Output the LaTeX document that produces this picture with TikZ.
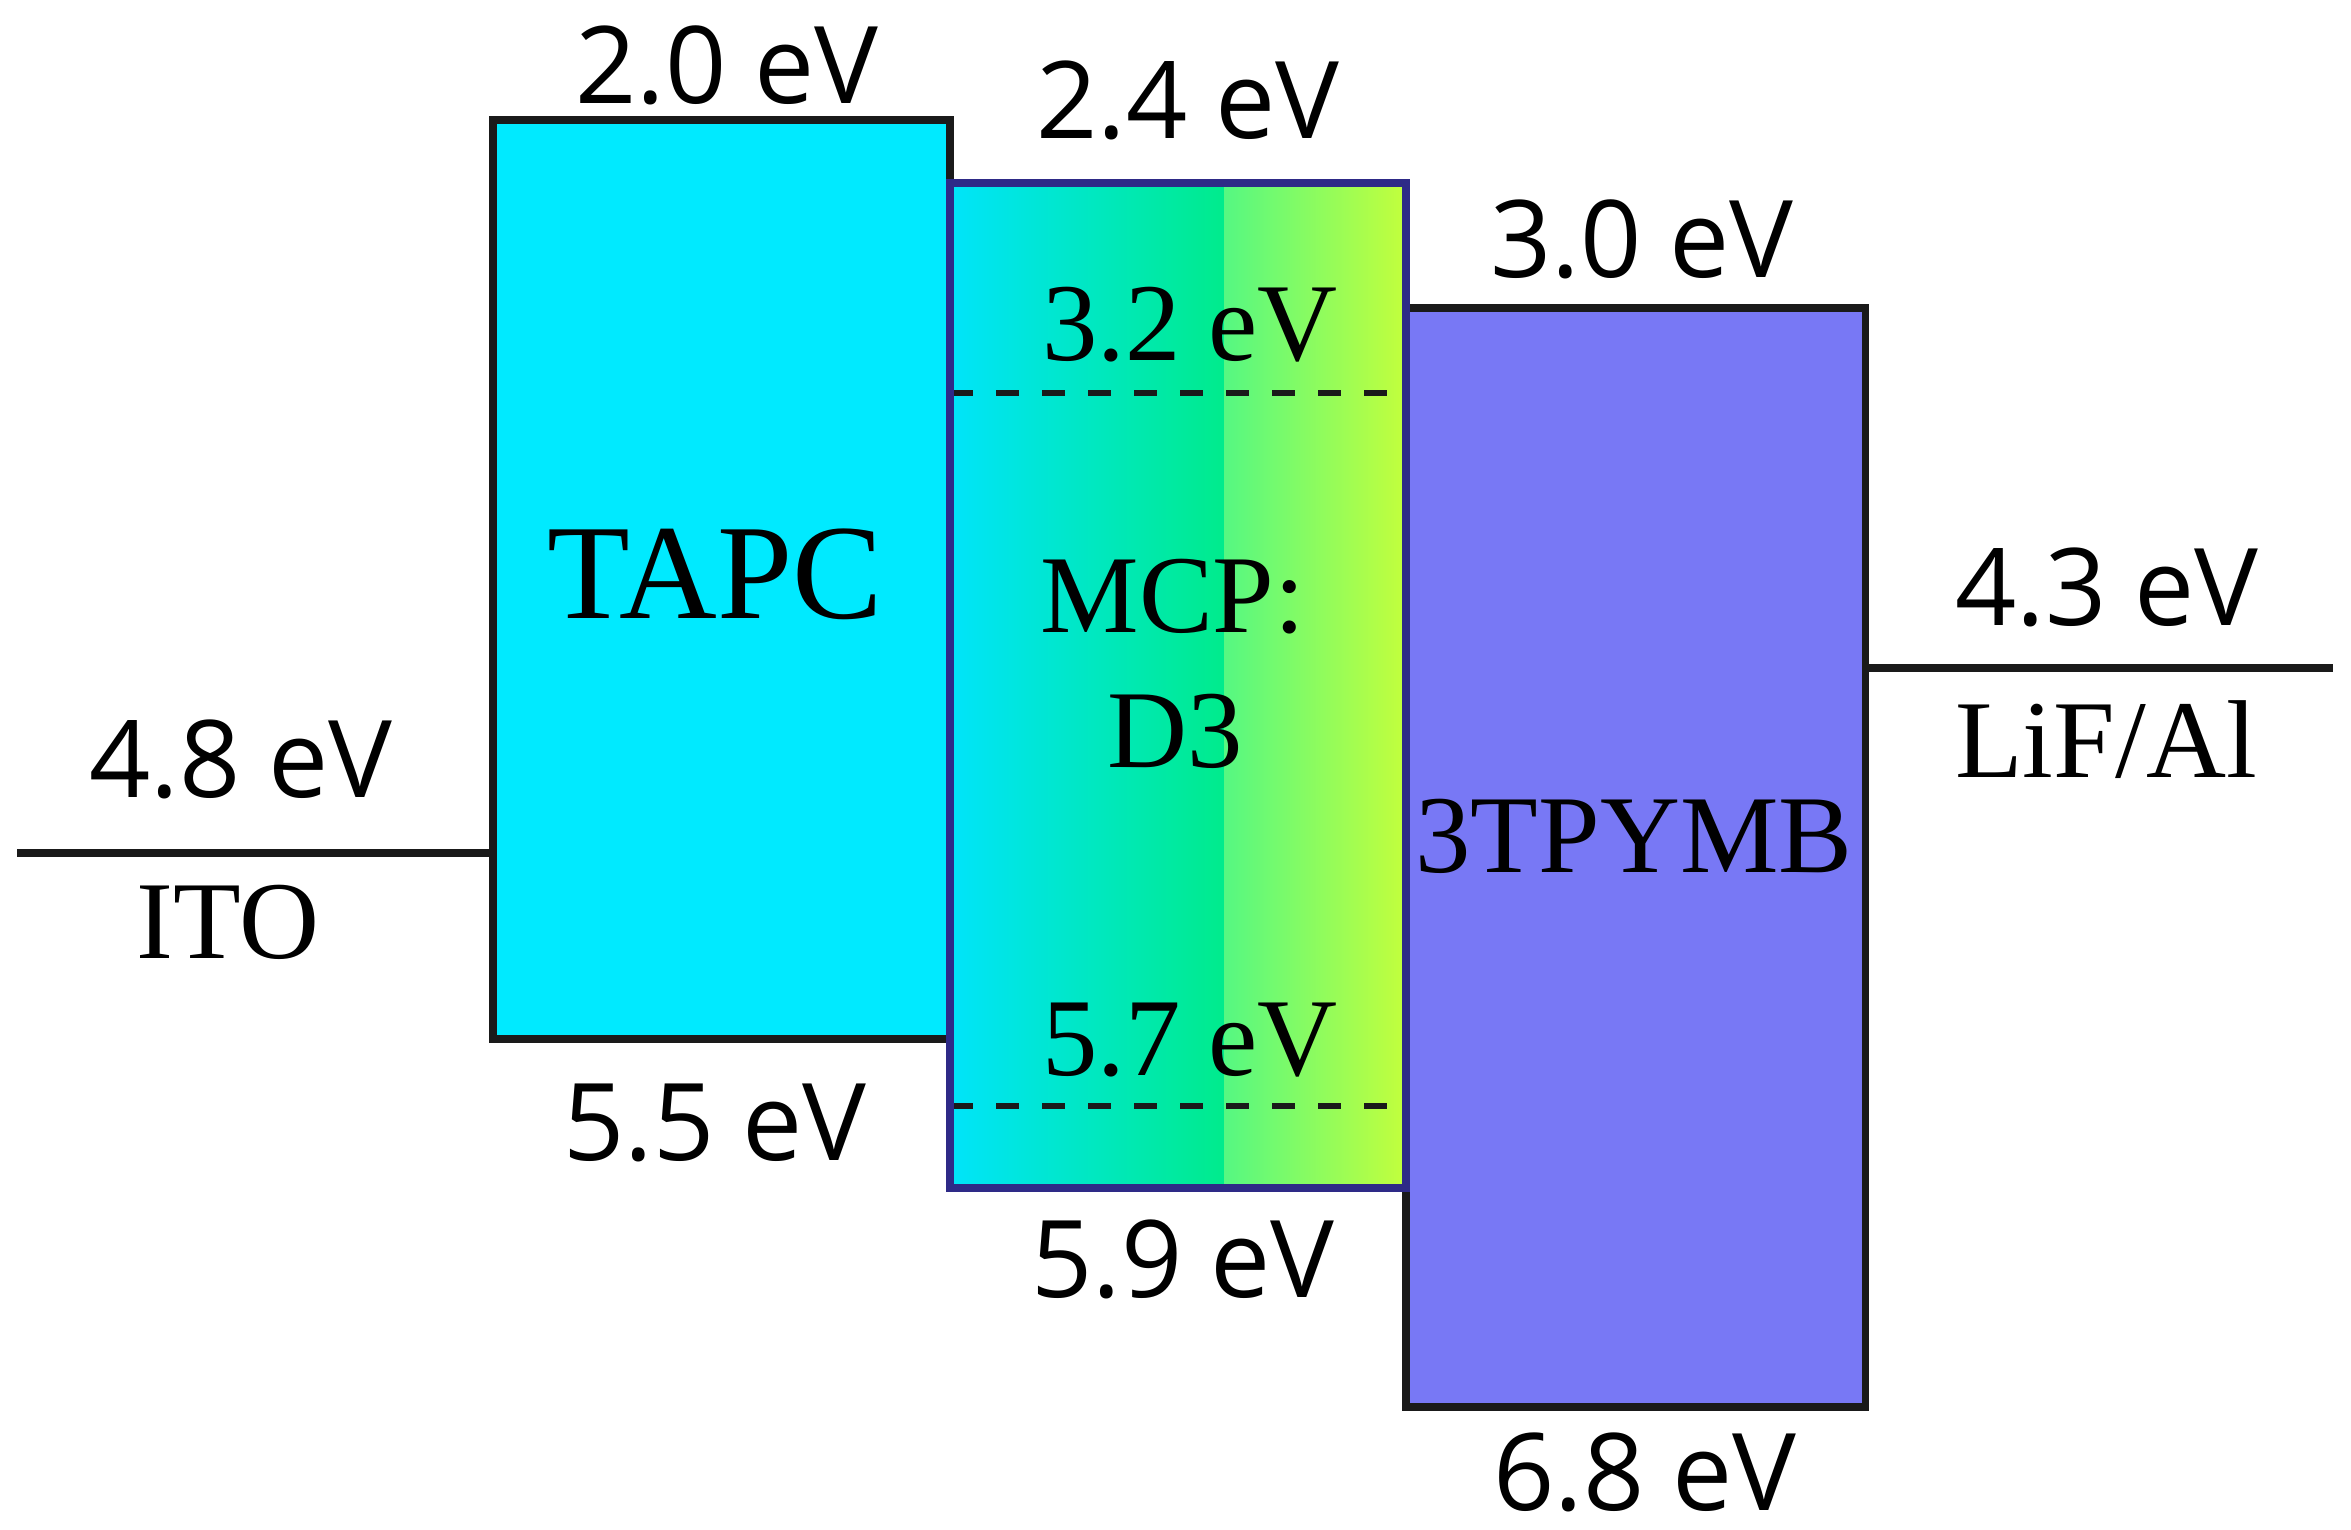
\documentclass[tikz,border=0pt]{standalone}
\usepackage{fontspec}
\setmainfont{Liberation Serif}
\newfontfamily\evsans{Open Sans}
\definecolor{tapccol}{RGB}{0,234,255}
\definecolor{tpycol}{RGB}{120,120,245}
\definecolor{mcpedge}{RGB}{46,42,135}
\definecolor{edgegray}{RGB}{26,26,26}
\definecolor{gcyan}{RGB}{0,228,250}
\definecolor{ggreen}{RGB}{0,235,140}
\definecolor{glight}{RGB}{85,248,130}
\definecolor{gyellow}{RGB}{195,255,60}
\begin{document}
\begin{tikzpicture}[x=0.01cm,y=-0.01cm,
  boxline/.style={draw=edgegray,line width=2pt},
  lvl/.style={draw=edgegray,line width=2pt},
  dashlvl/.style={draw=edgegray,line width=1.8pt,dash pattern=on 0.23cm off 0.23cm},
  evlab/.style={font=\evsans\fontsize{30.5}{31}\selectfont,anchor=base,inner sep=0pt},
  serlab/.style={font=\fontsize{31.5}{32}\selectfont,anchor=base,inner sep=0pt},
  biglab/.style={font=\fontsize{38.5}{39}\selectfont,anchor=base,inner sep=0pt}]
\useasboundingbox (0,0) rectangle (2351,1530);
% corner coordinates
\coordinate (tapcTL) at (493,120);
\coordinate (tapcBR) at (950,1039);
\coordinate (tpyTL) at (1406,308);
\coordinate (tpyBR) at (1865,1407);
\coordinate (mcpTL) at (950,183);
\coordinate (mcpBR) at (1406,1188);
\coordinate (mcpMid) at (1224,1188);
\coordinate (mcpMidT) at (1224,183);
% TAPC
\fill[tapccol] (tapcTL) rectangle (tapcBR);
\draw[boxline] (tapcTL) rectangle (tapcBR);
% 3TPYMB
\fill[tpycol] (tpyTL) rectangle (tpyBR);
\draw[boxline] (tpyTL) rectangle (tpyBR);
% MCP gradient box
\shade[left color=gcyan,right color=ggreen] (mcpTL) rectangle (mcpMid);
\shade[left color=glight,right color=gyellow] (mcpMidT) rectangle (mcpBR);
\coordinate (d1L) at (950,393);
\coordinate (d1R) at (1406,393);
\coordinate (d2L) at (950,1106);
\coordinate (d2R) at (1406,1106);
\draw[dashlvl] (d1L) -- (d1R);
\draw[dashlvl] (d2L) -- (d2R);
\draw[draw=mcpedge,line width=2pt] (mcpTL) rectangle (mcpBR);
% electrodes
\coordinate (itoL) at (17,853);
\coordinate (itoR) at (493,853);
\coordinate (lifL) at (1865,668);
\coordinate (lifR) at (2333,668);
\draw[lvl] (itoL) -- (itoR);
\draw[lvl] (lifL) -- (lifR);
% labels
\node[evlab] (l20) at (727,103) {2.0 eV};
\node[evlab] (l24) at (1188,138) {2.4 eV};
\node[evlab] (l30) at (1642,277) {3.0 eV};
\node[evlab] (l48) at (241,797) {4.8 eV};
\node[evlab] (l43) at (2107,625) {4.3 eV};
\node[evlab] (l55) at (715,1160) {5.5 eV};
\node[evlab] (l59) at (1183,1297) {5.9 eV};
\node[evlab] (l68) at (1645,1510) {6.8 eV};
\node[serlab] (l32) at (1190,360) {3.2 eV};
\node[serlab] (l57) at (1190,1075) {5.7 eV};
\node[serlab] (ito) at (228,958) {ITO};
\node[serlab] (lif) at (2106,777) {LiF/Al};
\node[biglab] (tapc) at (715,618) {TAPC};
\node[serlab] (mcp) at (1173,632) {MCP:};
\node[serlab] (d3) at (1175,767) {D3};
\node[serlab] (tpy) at (1634,872) {3TPYMB};
\end{tikzpicture}
\end{document}
